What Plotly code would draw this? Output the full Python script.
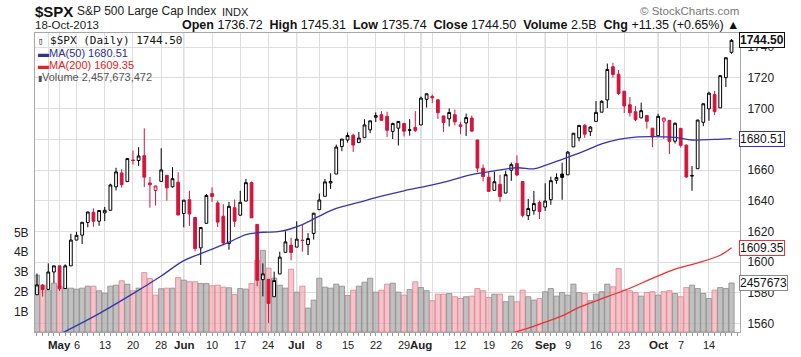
import pandas as pd
import plotly.graph_objects as go

# ---------------- data ----------------
holidays = ["2013-05-27", "2013-07-04", "2013-09-02"]
dates = [d for d in pd.bdate_range("2013-04-25", "2013-10-18")
         if d.strftime("%Y-%m-%d") not in holidays]

prior_close = 1578.79  # close of 24-Apr-2013

opens = [1578.8, 1585.0, 1582.3, 1593.6, 1597.6, 1582.8, 1597.6, 1614.4, 1617.6, 1625.9,
         1632.5, 1626.7, 1632.1, 1633.8, 1649.1, 1658.1, 1652.5, 1666.5, 1666.2, 1669.4,
         1651.6, 1646.7, 1652.6, 1656.6, 1649.1, 1652.1, 1631.7, 1640.7, 1629.1, 1609.3,
         1625.3, 1644.7, 1638.6, 1629.9, 1612.2, 1635.5, 1630.6, 1639.8, 1651.8, 1624.6,
         1588.6, 1588.8, 1577.5, 1592.3, 1606.4, 1611.1, 1609.8, 1614.3, 1611.5, 1618.7,
         1634.2, 1642.9, 1651.6, 1657.4, 1675.3, 1679.6, 1682.7, 1677.9, 1681.1, 1686.2,
         1694.4, 1696.1, 1695.0, 1685.2, 1687.3, 1690.3, 1686.2, 1687.8, 1689.4, 1706.1,
         1708.0, 1705.8, 1695.3, 1693.4, 1696.1, 1688.4, 1690.7, 1693.9, 1679.6, 1661.2,
         1655.3, 1646.8, 1650.7, 1645.0, 1659.9, 1664.3, 1652.5, 1630.3, 1633.5, 1638.9,
         1635.9, 1640.7, 1653.3, 1657.4, 1656.9, 1675.1, 1681.0, 1689.2, 1685.0, 1691.7,
         1697.7, 1705.7, 1727.3, 1722.4, 1711.4, 1702.6, 1698.0, 1694.0, 1695.5, 1687.3,
         1682.4, 1691.9, 1692.4, 1678.8, 1687.2, 1676.2, 1656.1, 1660.9, 1691.1, 1699.9,
         1709.2, 1700.5, 1720.2, 1736.72]
highs = [1592.6, 1585.8, 1599.2, 1597.6, 1597.6, 1598.6, 1618.5, 1619.8, 1626.0, 1632.8,
         1635.0, 1633.7, 1636.0, 1651.1, 1661.5, 1660.5, 1667.5, 1672.8, 1674.9, 1687.2,
         1655.5, 1649.8, 1674.2, 1656.6, 1661.9, 1658.6, 1640.4, 1646.5, 1629.3, 1622.6,
         1644.4, 1648.7, 1640.1, 1637.7, 1639.3, 1640.8, 1646.5, 1654.2, 1652.5, 1624.6,
         1599.2, 1588.8, 1593.8, 1606.8, 1620.1, 1615.9, 1626.6, 1624.3, 1618.9, 1632.1,
         1644.7, 1654.2, 1657.9, 1676.6, 1680.2, 1684.5, 1683.7, 1684.8, 1693.1, 1692.1,
         1697.6, 1698.4, 1698.0, 1690.9, 1691.9, 1690.9, 1693.2, 1698.4, 1707.9, 1709.7,
         1709.2, 1705.8, 1695.3, 1700.2, 1699.4, 1691.5, 1696.8, 1695.5, 1679.6, 1663.6,
         1659.2, 1658.9, 1656.9, 1659.6, 1664.9, 1669.5, 1652.5, 1641.2, 1646.4, 1640.1,
         1651.4, 1655.7, 1657.9, 1664.8, 1672.4, 1684.1, 1689.1, 1689.9, 1688.7, 1704.9,
         1705.5, 1729.4, 1729.9, 1725.2, 1711.4, 1707.6, 1701.7, 1703.9, 1695.5, 1687.3,
         1696.6, 1693.9, 1692.4, 1691.0, 1687.2, 1676.8, 1662.6, 1692.6, 1703.4, 1711.0,
         1711.6, 1721.8, 1733.4, 1745.31]
lows = [1578.8, 1577.6, 1582.3, 1586.5, 1581.3, 1582.8, 1597.6, 1614.2, 1611.8, 1622.7,
        1623.1, 1623.7, 1626.7, 1633.8, 1646.7, 1648.6, 1652.5, 1663.5, 1662.7, 1648.9,
        1635.5, 1636.9, 1652.6, 1640.1, 1648.6, 1630.7, 1622.7, 1623.6, 1607.1, 1598.2,
        1625.3, 1639.3, 1622.9, 1610.9, 1608.1, 1622.9, 1630.3, 1639.8, 1628.9, 1584.3,
        1577.7, 1560.3, 1577.5, 1592.3, 1606.4, 1601.2, 1609.8, 1606.8, 1604.6, 1614.7,
        1634.2, 1642.9, 1647.7, 1657.4, 1672.3, 1677.9, 1671.8, 1677.9, 1681.1, 1684.1,
        1691.3, 1691.9, 1681.6, 1680.2, 1676.0, 1681.9, 1682.4, 1684.9, 1689.4, 1700.7,
        1703.6, 1693.3, 1684.9, 1688.4, 1689.1, 1683.4, 1682.2, 1684.8, 1658.6, 1652.6,
        1646.1, 1646.8, 1639.4, 1645.0, 1653.0, 1656.0, 1629.1, 1627.5, 1630.9, 1628.1,
        1633.4, 1637.4, 1651.1, 1640.6, 1656.9, 1675.1, 1678.7, 1681.0, 1682.2, 1691.7,
        1697.7, 1700.4, 1720.2, 1708.9, 1697.1, 1694.9, 1691.9, 1693.9, 1687.0, 1674.9,
        1682.1, 1680.3, 1670.4, 1677.3, 1674.7, 1655.0, 1646.5, 1660.9, 1688.6, 1692.1,
        1695.9, 1700.5, 1714.1, 1735.74]
closes = [1585.2, 1582.2, 1593.6, 1597.6, 1582.7, 1597.6, 1614.4, 1617.5, 1626.0, 1632.7,
          1626.7, 1633.7, 1633.8, 1650.3, 1658.8, 1650.5, 1667.5, 1666.3, 1669.2, 1655.4,
          1650.5, 1649.6, 1660.1, 1648.4, 1654.4, 1630.7, 1640.4, 1631.4, 1608.9, 1622.6,
          1643.4, 1642.8, 1626.1, 1612.5, 1636.4, 1626.7, 1639.0, 1651.8, 1628.9, 1588.2,
          1592.4, 1573.1, 1588.0, 1603.3, 1613.2, 1606.3, 1615.0, 1614.1, 1615.4, 1631.9,
          1640.5, 1652.3, 1652.6, 1675.0, 1680.2, 1682.5, 1676.3, 1680.9, 1689.4, 1692.1,
          1695.5, 1692.4, 1685.9, 1690.3, 1691.7, 1685.3, 1686.0, 1685.7, 1706.9, 1709.7,
          1707.1, 1697.4, 1690.9, 1697.5, 1691.4, 1689.5, 1694.2, 1685.4, 1661.3, 1655.8,
          1646.1, 1652.4, 1642.8, 1657.0, 1663.5, 1656.8, 1630.5, 1635.0, 1638.2, 1633.0,
          1639.8, 1653.1, 1655.1, 1655.2, 1671.7, 1684.0, 1689.1, 1683.4, 1688.0, 1697.6,
          1704.8, 1725.5, 1722.3, 1709.9, 1701.8, 1697.4, 1692.8, 1698.7, 1691.8, 1681.6,
          1695.0, 1693.9, 1678.7, 1690.5, 1676.1, 1655.5, 1656.4, 1692.6, 1703.2, 1710.1,
          1698.1, 1721.5, 1733.15, 1744.50]
volumes_b = [2.85, 2.35, 2.10, 2.45, 2.30, 2.20, 2.20, 2.15, 2.20, 2.30,
             2.30, 2.07, 1.95, 2.30, 2.35, 2.57, 2.40, 2.07, 2.20, 2.98,
             2.68, 1.85, 2.17, 2.20, 2.20, 2.73, 2.60, 2.52, 2.52, 2.43,
             2.43, 2.32, 2.35, 2.25, 2.22, 1.88, 2.18, 2.15, 2.43, 3.60,
             4.10, 3.20, 2.70, 2.35, 2.20, 3.15, 2.00, 2.30, 1.20, 1.60,
             2.70, 2.25, 2.20, 2.40, 2.30, 1.83, 2.10, 2.30, 2.50, 2.70,
             2.00, 2.10, 2.40, 2.45, 2.00, 1.85, 2.13, 2.52, 2.23, 2.07,
             1.57, 1.90, 1.90, 1.93, 1.77, 1.68, 1.77, 1.80, 2.18, 2.07,
             1.73, 1.90, 1.90, 1.52, 1.80, 1.52, 2.10, 1.77, 1.60, 1.68,
             2.02, 2.18, 1.80, 1.98, 1.85, 2.40, 1.98, 1.93, 1.57, 1.90,
             2.02, 2.40, 2.27, 3.18, 2.10, 2.07, 1.97, 1.80, 1.98, 2.02,
             1.85, 2.02, 2.07, 1.93, 1.77, 2.23, 2.35, 2.18, 1.93, 1.68,
             2.10, 2.23, 2.18, 2.4577]

ma50_dates = ["2013-05-01", "2013-05-10", "2013-05-20", "2013-05-28", "2013-06-03",
              "2013-06-07", "2013-06-13", "2013-06-18", "2013-06-21", "2013-06-26",
              "2013-07-02", "2013-07-08", "2013-07-11", "2013-07-17", "2013-07-23",
              "2013-07-29", "2013-08-02", "2013-08-08", "2013-08-14", "2013-08-20",
              "2013-08-26", "2013-08-29", "2013-09-03", "2013-09-06", "2013-09-12",
              "2013-09-17", "2013-09-20", "2013-09-25", "2013-09-30", "2013-10-04",
              "2013-10-09", "2013-10-15", "2013-10-18"]
ma50_vals = [1553, 1566.5, 1579.5, 1591, 1601, 1607, 1613, 1618, 1619.5, 1620,
             1624.5, 1630, 1635, 1639, 1643, 1646.5, 1649.5, 1653, 1657, 1659.5,
             1661.5, 1660.8, 1663, 1667, 1672.5, 1677, 1680, 1681.5, 1681.8, 1681.3,
             1679.6, 1680, 1680.51]
ma200_dates = ["2013-08-23", "2013-08-28", "2013-09-03", "2013-09-06", "2013-09-11",
               "2013-09-18", "2013-09-24", "2013-09-30", "2013-10-04", "2013-10-10",
               "2013-10-16", "2013-10-18"]
ma200_vals = [1553.8, 1557, 1561, 1565, 1570.5, 1577.5, 1583, 1589.5, 1595.5, 1599.5,
              1604.5, 1609.35]

tick_dates = ["2013-04-29", "2013-05-01", "2013-05-06", "2013-05-13", "2013-05-20",
              "2013-05-28", "2013-06-03", "2013-06-10", "2013-06-17", "2013-06-24",
              "2013-07-01", "2013-07-08", "2013-07-15", "2013-07-22", "2013-07-29",
              "2013-08-01", "2013-08-05", "2013-08-12", "2013-08-19", "2013-08-26",
              "2013-09-03", "2013-09-09", "2013-09-16", "2013-09-23", "2013-10-01",
              "2013-10-07", "2013-10-14"]
tick_labels = ["", "May", "6", "13", "20", "28", "Jun", "10", "17", "24",
               "Jul", "8", "15", "22", "29", "Aug", "", "12", "19", "26",
               "Sep", "9", "16", "23", "Oct", "7", "14"]
month_starts = ["2013-05-01", "2013-06-03", "2013-07-01", "2013-08-01", "2013-09-03", "2013-10-01"]

price_ticks = [1560, 1580, 1600, 1620, 1640, 1660, 1680, 1700, 1720, 1740]
volume_ticks = [1, 2, 3, 4, 5]
volume_tick_labels = ["1B", "2B", "3B", "4B", "5B"]
last_volume_text = "2,457,673,472"

# ---------------- helpers ----------------
pos = {d.strftime("%Y-%m-%d"): i for i, d in enumerate(dates)}
idx = list(range(len(dates)))
prev = [prior_close] + closes[:-1]
up = [c >= p for c, p in zip(closes, prev)]

# plot-area pixel box (for header/legend text placement)
X0, X1, Y0, Y1 = 35, 740, 33, 332
def px(x): return (x - X0) / (X1 - X0)
def py(y): return (Y1 - y) / (Y1 - Y0)

RED = "#d6133b"
FONT = "Liberation Sans, Arial, sans-serif"

fig = go.Figure()

# volume bars (base axis, left)
fig.add_trace(go.Bar(
    x=idx, y=volumes_b, yaxis="y",
    marker=dict(color=["rgba(172,172,172,0.75)" if u else "rgba(236,160,170,0.62)" for u in up],
                line=dict(color=["rgba(140,140,140,0.8)" if u else "rgba(226,130,145,0.8)" for u in up],
                          width=1)),
    hoverinfo="skip", showlegend=False))

# moving averages
fig.add_trace(go.Scatter(x=[pos[d] for d in ma50_dates], y=ma50_vals, yaxis="y2",
                         mode="lines", line=dict(color="#3535aa", width=1.3, shape="spline"),
                         showlegend=False, hoverinfo="skip"))
fig.add_trace(go.Scatter(x=[pos[d] for d in ma200_dates], y=ma200_vals, yaxis="y2",
                         mode="lines", line=dict(color="#f03030", width=1.3, shape="spline"),
                         showlegend=False, hoverinfo="skip"))

# candles: black for up vs prior close, red for down; hollow when close > open
for flag, col in [(True, "#000000"), (False, RED)]:
    sel = [i for i in idx if up[i] == flag]
    fig.add_trace(go.Candlestick(
        x=sel, open=[opens[i] for i in sel], high=[highs[i] for i in sel],
        low=[lows[i] for i in sel], close=[closes[i] for i in sel], yaxis="y2",
        increasing=dict(line=dict(color=col, width=1), fillcolor="white"),
        decreasing=dict(line=dict(color=col, width=1), fillcolor=col),
        whiskerwidth=0, showlegend=False, hoverinfo="skip"))

shapes = []
for d in month_starts:
    shapes.append(dict(type="line", xref="x", yref="paper", x0=pos[d], x1=pos[d], y0=0, y1=1,
                       line=dict(color="#bdbdbd", width=1), layer="below"))

ann = []
def text(x, y, s, size=12, color="#222", anchor="left", family=FONT):
    ann.append(dict(xref="paper", yref="paper", x=px(x), y=py(y), text=s, showarrow=False,
                    xanchor=anchor, yanchor="middle", font=dict(size=size, color=color, family=family)))

text(33, 11, "<b>$SPX</b>", size=15, color="#111")
text(75, 11.5, "S&P 500 Large Cap Index", size=12, color="#222")
text(220, 12, "INDX", size=11, color="#222")
text(741, 11, "© StockCharts.com", size=11.5, color="#777", anchor="right")
text(33, 25.5, "18-Oct-2013", size=11.5, color="#222")
chg = closes[-1] - closes[-2]
hdr = ("<b>Open</b> %.2f  <b>High</b> %.2f  <b>Low</b> %.2f  <b>Close</b> %.2f  "
       "<b>Volume</b> 2.5B  <b>Chg</b> %+.2f (%+.2f%%) ▲"
       % (opens[-1], highs[-1], lows[-1], closes[-1], chg, chg / closes[-2] * 100))
text(741, 25.5, hdr, size=12.5, color="#111", anchor="right")

# in-plot legend
text(36, 41, "<span style='font-size:9px'>▯</span> $SPX (Daily) %.2f" % closes[-1], size=11,
     color="#111", family="DejaVu Sans Mono, monospace")
text(36, 53, "▬MA(50) %.2f" % ma50_vals[-1], size=11, color="#2d2d9c")
text(36, 65, "▬MA(200) %.2f" % ma200_vals[-1], size=11, color="#e82020")
text(36, 77, "<span style='font-size:8px'>▮</span>Volume " + last_volume_text, size=11, color="#555")

# x-axis labels (months bold)
for d, lab in zip(tick_dates, tick_labels):
    if not lab:
        continue
    bold = lab.isalpha()
    ann.append(dict(xref="x", yref="paper", x=pos[d], y=0, yshift=-5, yanchor="top",
                    xanchor="center", showarrow=False,
                    text=("<b>%s</b>" % lab) if bold else lab,
                    font=dict(size=11.5 if bold else 11, color="#222", family=FONT)))

# right-side value tags
def tag(yref, y, s, border, bold=False):
    ann.append(dict(xref="paper", yref=yref, x=1, y=y, xanchor="left", yanchor="middle",
                    xshift=-1, text=("<b>%s</b>" % s) if bold else s, showarrow=False,
                    font=dict(size=12, color="#111", family=FONT), bgcolor="white",
                    bordercolor=border, borderwidth=1, borderpad=0))
tag("y2", closes[-1], "%.2f" % closes[-1], "#111", bold=True)
tag("y2", ma50_vals[-1], "%.2f" % ma50_vals[-1], "#3535aa")
tag("y2", ma200_vals[-1], "%.2f" % ma200_vals[-1], "#f03030")
tag("y", volumes_b[-1], "2457673", "#888")

fig.update_layout(
    width=801, height=357,
    margin=dict(l=X0, r=801 - X1, t=Y0, b=357 - Y1, autoexpand=False),
    paper_bgcolor="white", plot_bgcolor="white",
    bargap=0.08, boxgap=0.3,
    shapes=shapes, annotations=ann,
    font=dict(family=FONT, size=11, color="#222"),
    xaxis=dict(range=[-0.35, 124.5], tickmode="array",
               tickvals=[pos[d] for d in tick_dates], ticktext=["" for _ in tick_dates],
               showticklabels=False, automargin=False,
               showgrid=True, gridcolor="#dedede", gridwidth=1, zeroline=False,
               showline=True, linecolor="#a8a8a8", mirror=True, ticks="",
               minor=dict(tickmode="linear", tick0=0, dtick=1, ticks="outside",
                          ticklen=3, tickcolor="#999", showgrid=False),
               rangeslider=dict(visible=False)),
    yaxis=dict(range=[0, 15], side="left", tickmode="array", tickvals=volume_ticks,
               ticktext=volume_tick_labels, showgrid=False, zeroline=False, automargin=False,
               showline=True, linecolor="#a8a8a8", ticks="", ticklabelstandoff=3,
               tickfont=dict(size=12, color="#222")),
    yaxis2=dict(range=[1554.5, 1749.3], overlaying="y", side="right", automargin=False,
                tickmode="array", tickvals=price_ticks,
                ticktext=["" if t == 1680 else str(t) for t in price_ticks], showgrid=True,
                gridcolor="#dedede", zeroline=False, showline=True, linecolor="#a8a8a8",
                ticks="", ticklabelstandoff=4, tickfont=dict(size=12, color="#222")),
)

fig.write_html("out.html", config={"displayModeBar": False},
               post_script="document.body.style.margin='0';")
